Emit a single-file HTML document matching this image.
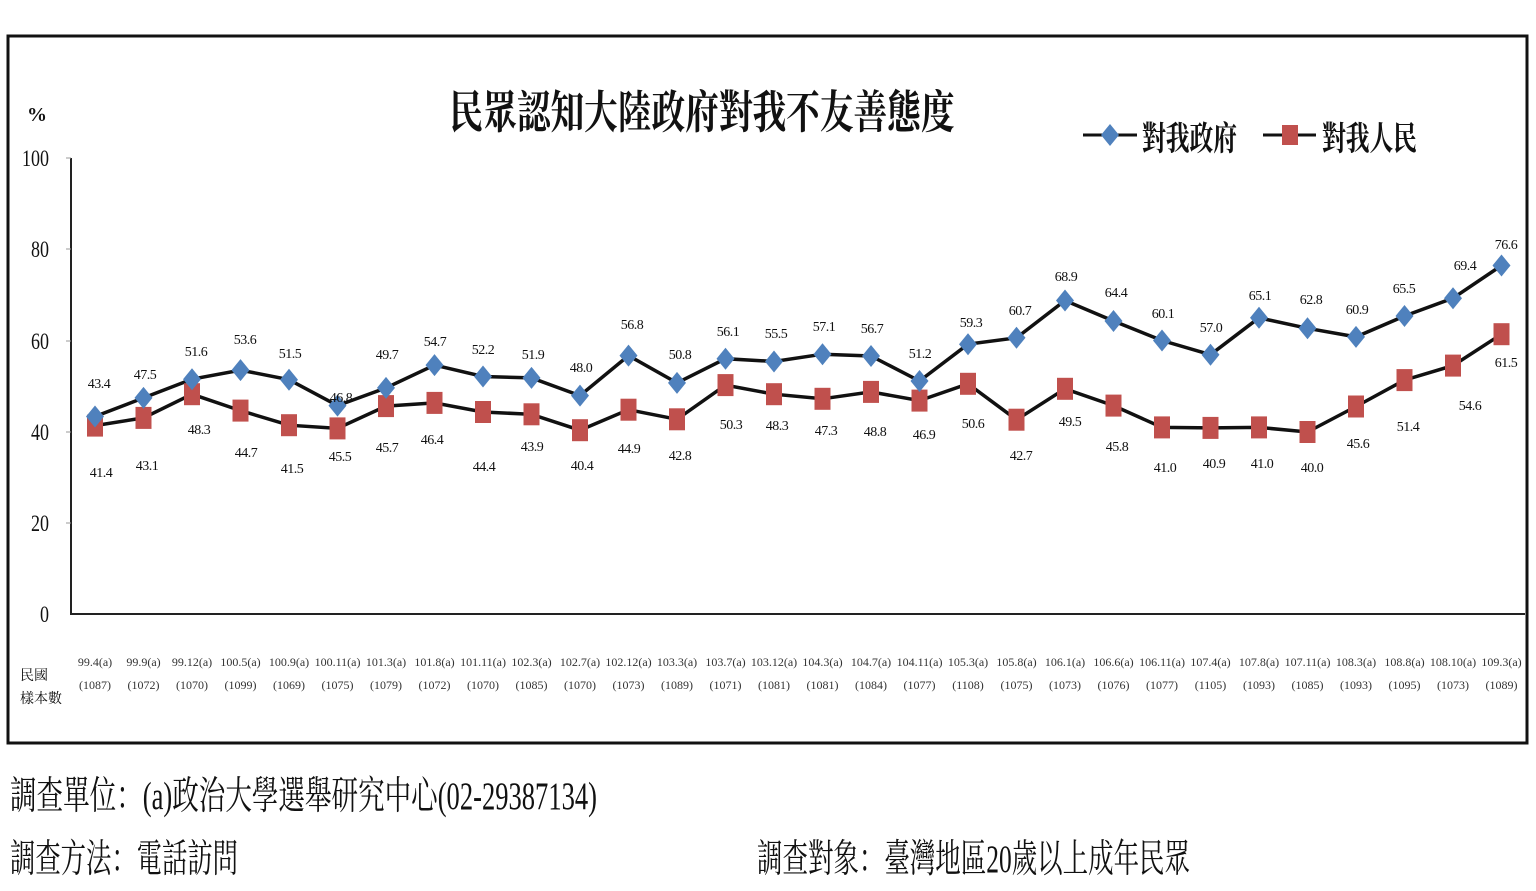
<!DOCTYPE html>
<html><head><meta charset="utf-8"><style>
html,body{margin:0;padding:0;background:#fff;width:1536px;height:891px;overflow:hidden}
svg{display:block}
text{font-family:"Liberation Serif","Noto Serif CJK SC","Noto Sans CJK TC",serif;fill:#111}
.v{font-size:14px;text-anchor:middle;letter-spacing:-0.5px}
.t{font-size:12px;text-anchor:middle;fill:#333}
.y{font-size:18px;text-anchor:end}
</style></head><body>
<svg width="1536" height="891" viewBox="0 0 1536 891" xmlns="http://www.w3.org/2000/svg">
<rect x="8" y="36" width="1519" height="707" fill="#fff" stroke="#111" stroke-width="3"/>
<text transform="translate(702,128) scale(1,1.3)" text-anchor="middle" font-size="35" font-weight="bold" textLength="505" lengthAdjust="spacingAndGlyphs">民眾認知大陸政府對我不友善態度</text>
<text x="27" y="121" font-size="20" font-weight="bold">%</text>
<line x1="1083" y1="135" x2="1137" y2="135" stroke="#111" stroke-width="3"/>
<polygon points="1110,124 1119,135 1110,146 1101,135" fill="#4f81bd"/>
<text transform="translate(1142,150) scale(1,1.35)" font-size="25" font-weight="bold" textLength="95" lengthAdjust="spacingAndGlyphs">對我政府</text>
<line x1="1263" y1="135" x2="1316" y2="135" stroke="#111" stroke-width="3"/>
<rect x="1282" y="125" width="16" height="20" fill="#c0504d"/>
<text transform="translate(1322,150) scale(1,1.35)" font-size="25" font-weight="bold" textLength="95" lengthAdjust="spacingAndGlyphs">對我人民</text>
<line x1="71" y1="158" x2="71" y2="614" stroke="#222" stroke-width="2"/>
<line x1="70" y1="614" x2="1525" y2="614" stroke="#222" stroke-width="2"/>
<g stroke="#999" stroke-width="1">
<line x1="66" y1="158" x2="71" y2="158"/><line x1="66" y1="249" x2="71" y2="249"/><line x1="66" y1="341" x2="71" y2="341"/><line x1="66" y1="432" x2="71" y2="432"/><line x1="66" y1="523" x2="71" y2="523"/>
</g>
<text transform="translate(49,166) scale(1,1.3)" class="y">100</text>
<text transform="translate(49,257) scale(1,1.3)" class="y">80</text>
<text transform="translate(49,349) scale(1,1.3)" class="y">60</text>
<text transform="translate(49,440) scale(1,1.3)" class="y">40</text>
<text transform="translate(49,531) scale(1,1.3)" class="y">20</text>
<text transform="translate(49,622) scale(1,1.3)" class="y">0</text>
<polyline fill="none" stroke="#111" stroke-width="3.5" points="95,416.5 143.5,397.9 192,379.2 240.5,370.1 289,379.7 337.5,405.6 386,387.9 434.5,365.1 483,376.5 531.5,377.9 580,395.6 628.5,355.6 677,382.9 725.5,358.7 774,361.5 822.5,354.2 871,356 919.5,381 968,344.2 1016.5,337.8 1065,300.5 1113.5,321 1162,340.5 1210.5,354.7 1259,317.8 1307.5,328.3 1356,336.9 1404.5,316 1453,298.2 1501.5,265.5"/>
<polyline fill="none" stroke="#111" stroke-width="3.5" points="95,425.6 143.5,417.9 192,394.2 240.5,410.6 289,425.2 337.5,428.4 386,406.1 434.5,402.9 483,412 531.5,414.3 580,430.2 628.5,409.7 677,419.3 725.5,385.1 774,394.2 822.5,398.8 871,391.9 919.5,400.6 968,383.8 1016.5,419.7 1065,388.8 1113.5,405.6 1162,427.4 1210.5,427.9 1259,427.4 1307.5,432 1356,406.5 1404.5,380.1 1453,365.6 1501.5,334.2"/>
<g fill="#c0504d">
<rect x="87" y="414.6" width="16" height="22"/><rect x="135.5" y="406.9" width="16" height="22"/><rect x="184" y="383.2" width="16" height="22"/><rect x="232.5" y="399.6" width="16" height="22"/><rect x="281" y="414.2" width="16" height="22"/><rect x="329.5" y="417.4" width="16" height="22"/><rect x="378" y="395.1" width="16" height="22"/><rect x="426.5" y="391.9" width="16" height="22"/><rect x="475" y="401" width="16" height="22"/><rect x="523.5" y="403.3" width="16" height="22"/><rect x="572" y="419.2" width="16" height="22"/><rect x="620.5" y="398.7" width="16" height="22"/><rect x="669" y="408.3" width="16" height="22"/><rect x="717.5" y="374.1" width="16" height="22"/><rect x="766" y="383.2" width="16" height="22"/><rect x="814.5" y="387.8" width="16" height="22"/><rect x="863" y="380.9" width="16" height="22"/><rect x="911.5" y="389.6" width="16" height="22"/><rect x="960" y="372.8" width="16" height="22"/><rect x="1008.5" y="408.7" width="16" height="22"/><rect x="1057" y="377.8" width="16" height="22"/><rect x="1105.5" y="394.6" width="16" height="22"/><rect x="1154" y="416.4" width="16" height="22"/><rect x="1202.5" y="416.9" width="16" height="22"/><rect x="1251" y="416.4" width="16" height="22"/><rect x="1299.5" y="421" width="16" height="22"/><rect x="1348" y="395.5" width="16" height="22"/><rect x="1396.5" y="369.1" width="16" height="22"/><rect x="1445" y="354.6" width="16" height="22"/><rect x="1493.5" y="323.2" width="16" height="22"/>
</g>
<g fill="#4f81bd">
<polygon points="95,405.5 104,416.5 95,427.5 86,416.5"/><polygon points="143.5,386.9 152.5,397.9 143.5,408.9 134.5,397.9"/><polygon points="192,368.2 201,379.2 192,390.2 183,379.2"/><polygon points="240.5,359.1 249.5,370.1 240.5,381.1 231.5,370.1"/><polygon points="289,368.7 298,379.7 289,390.7 280,379.7"/><polygon points="337.5,394.6 346.5,405.6 337.5,416.6 328.5,405.6"/><polygon points="386,376.9 395,387.9 386,398.9 377,387.9"/><polygon points="434.5,354.1 443.5,365.1 434.5,376.1 425.5,365.1"/><polygon points="483,365.5 492,376.5 483,387.5 474,376.5"/><polygon points="531.5,366.9 540.5,377.9 531.5,388.9 522.5,377.9"/><polygon points="580,384.6 589,395.6 580,406.6 571,395.6"/><polygon points="628.5,344.6 637.5,355.6 628.5,366.6 619.5,355.6"/><polygon points="677,371.9 686,382.9 677,393.9 668,382.9"/><polygon points="725.5,347.7 734.5,358.7 725.5,369.7 716.5,358.7"/><polygon points="774,350.5 783,361.5 774,372.5 765,361.5"/><polygon points="822.5,343.2 831.5,354.2 822.5,365.2 813.5,354.2"/><polygon points="871,345 880,356 871,367 862,356"/><polygon points="919.5,370 928.5,381 919.5,392 910.5,381"/><polygon points="968,333.2 977,344.2 968,355.2 959,344.2"/><polygon points="1016.5,326.8 1025.5,337.8 1016.5,348.8 1007.5,337.8"/><polygon points="1065,289.5 1074,300.5 1065,311.5 1056,300.5"/><polygon points="1113.5,310 1122.5,321 1113.5,332 1104.5,321"/><polygon points="1162,329.5 1171,340.5 1162,351.5 1153,340.5"/><polygon points="1210.5,343.7 1219.5,354.7 1210.5,365.7 1201.5,354.7"/><polygon points="1259,306.8 1268,317.8 1259,328.8 1250,317.8"/><polygon points="1307.5,317.3 1316.5,328.3 1307.5,339.3 1298.5,328.3"/><polygon points="1356,325.9 1365,336.9 1356,347.9 1347,336.9"/><polygon points="1404.5,305 1413.5,316 1404.5,327 1395.5,316"/><polygon points="1453,287.2 1462,298.2 1453,309.2 1444,298.2"/><polygon points="1501.5,254.5 1510.5,265.5 1501.5,276.5 1492.5,265.5"/>
</g>
<g class="v">
<text x="99" y="388" class="v">43.4</text><text x="145" y="379" class="v">47.5</text><text x="196" y="356" class="v">51.6</text><text x="245" y="344" class="v">53.6</text><text x="290" y="358" class="v">51.5</text><text x="341" y="402" class="v">46.8</text><text x="387" y="359" class="v">49.7</text><text x="435" y="346" class="v">54.7</text><text x="483" y="354" class="v">52.2</text><text x="533" y="359" class="v">51.9</text><text x="581" y="372" class="v">48.0</text><text x="632" y="329" class="v">56.8</text><text x="680" y="359" class="v">50.8</text><text x="728" y="336" class="v">56.1</text><text x="776" y="338" class="v">55.5</text><text x="824" y="331" class="v">57.1</text><text x="872" y="333" class="v">56.7</text><text x="920" y="358" class="v">51.2</text><text x="971" y="327" class="v">59.3</text><text x="1020" y="315" class="v">60.7</text><text x="1066" y="281" class="v">68.9</text><text x="1116" y="297" class="v">64.4</text><text x="1163" y="318" class="v">60.1</text><text x="1211" y="332" class="v">57.0</text><text x="1260" y="300" class="v">65.1</text><text x="1311" y="304" class="v">62.8</text><text x="1357" y="314" class="v">60.9</text><text x="1404" y="293" class="v">65.5</text><text x="1465" y="270" class="v">69.4</text><text x="1506" y="249" class="v">76.6</text>
</g>
<g class="v">
<text x="101" y="477" class="v">41.4</text><text x="147" y="470" class="v">43.1</text><text x="199" y="434" class="v">48.3</text><text x="246" y="457" class="v">44.7</text><text x="292" y="473" class="v">41.5</text><text x="340" y="461" class="v">45.5</text><text x="387" y="452" class="v">45.7</text><text x="432" y="444" class="v">46.4</text><text x="484" y="471" class="v">44.4</text><text x="532" y="451" class="v">43.9</text><text x="582" y="470" class="v">40.4</text><text x="629" y="453" class="v">44.9</text><text x="680" y="460" class="v">42.8</text><text x="731" y="429" class="v">50.3</text><text x="777" y="430" class="v">48.3</text><text x="826" y="435" class="v">47.3</text><text x="875" y="436" class="v">48.8</text><text x="924" y="439" class="v">46.9</text><text x="973" y="428" class="v">50.6</text><text x="1021" y="460" class="v">42.7</text><text x="1070" y="426" class="v">49.5</text><text x="1117" y="451" class="v">45.8</text><text x="1165" y="472" class="v">41.0</text><text x="1214" y="468" class="v">40.9</text><text x="1262" y="468" class="v">41.0</text><text x="1312" y="472" class="v">40.0</text><text x="1358" y="448" class="v">45.6</text><text x="1408" y="431" class="v">51.4</text><text x="1470" y="410" class="v">54.6</text><text x="1506" y="367" class="v">61.5</text>
</g>
<g class="t">
<text x="95" y="666" class="t">99.4(a)</text><text x="143.5" y="666" class="t">99.9(a)</text><text x="192" y="666" class="t">99.12(a)</text><text x="240.5" y="666" class="t">100.5(a)</text><text x="289" y="666" class="t">100.9(a)</text><text x="337.5" y="666" class="t">100.11(a)</text><text x="386" y="666" class="t">101.3(a)</text><text x="434.5" y="666" class="t">101.8(a)</text><text x="483" y="666" class="t">101.11(a)</text><text x="531.5" y="666" class="t">102.3(a)</text><text x="580" y="666" class="t">102.7(a)</text><text x="628.5" y="666" class="t">102.12(a)</text><text x="677" y="666" class="t">103.3(a)</text><text x="725.5" y="666" class="t">103.7(a)</text><text x="774" y="666" class="t">103.12(a)</text><text x="822.5" y="666" class="t">104.3(a)</text><text x="871" y="666" class="t">104.7(a)</text><text x="919.5" y="666" class="t">104.11(a)</text><text x="968" y="666" class="t">105.3(a)</text><text x="1016.5" y="666" class="t">105.8(a)</text><text x="1065" y="666" class="t">106.1(a)</text><text x="1113.5" y="666" class="t">106.6(a)</text><text x="1162" y="666" class="t">106.11(a)</text><text x="1210.5" y="666" class="t">107.4(a)</text><text x="1259" y="666" class="t">107.8(a)</text><text x="1307.5" y="666" class="t">107.11(a)</text><text x="1356" y="666" class="t">108.3(a)</text><text x="1404.5" y="666" class="t">108.8(a)</text><text x="1453" y="666" class="t">108.10(a)</text><text x="1501.5" y="666" class="t">109.3(a)</text>
<text x="95" y="689" class="t">(1087)</text><text x="143.5" y="689" class="t">(1072)</text><text x="192" y="689" class="t">(1070)</text><text x="240.5" y="689" class="t">(1099)</text><text x="289" y="689" class="t">(1069)</text><text x="337.5" y="689" class="t">(1075)</text><text x="386" y="689" class="t">(1079)</text><text x="434.5" y="689" class="t">(1072)</text><text x="483" y="689" class="t">(1070)</text><text x="531.5" y="689" class="t">(1085)</text><text x="580" y="689" class="t">(1070)</text><text x="628.5" y="689" class="t">(1073)</text><text x="677" y="689" class="t">(1089)</text><text x="725.5" y="689" class="t">(1071)</text><text x="774" y="689" class="t">(1081)</text><text x="822.5" y="689" class="t">(1081)</text><text x="871" y="689" class="t">(1084)</text><text x="919.5" y="689" class="t">(1077)</text><text x="968" y="689" class="t">(1108)</text><text x="1016.5" y="689" class="t">(1075)</text><text x="1065" y="689" class="t">(1073)</text><text x="1113.5" y="689" class="t">(1076)</text><text x="1162" y="689" class="t">(1077)</text><text x="1210.5" y="689" class="t">(1105)</text><text x="1259" y="689" class="t">(1093)</text><text x="1307.5" y="689" class="t">(1085)</text><text x="1356" y="689" class="t">(1093)</text><text x="1404.5" y="689" class="t">(1095)</text><text x="1453" y="689" class="t">(1073)</text><text x="1501.5" y="689" class="t">(1089)</text>
</g>
<text x="20" y="680" font-size="14" fill="#444">民國</text>
<text x="20" y="703" font-size="14" fill="#444">樣本數</text>
<text transform="translate(10,809) scale(1,1.3)" font-size="30" textLength="587" lengthAdjust="spacingAndGlyphs">調查單位：(a)政治大學選舉研究中心(02-29387134)</text>
<text transform="translate(10,872) scale(1,1.3)" font-size="30" textLength="228" lengthAdjust="spacingAndGlyphs">調查方法：電話訪問</text>
<text transform="translate(757,872) scale(1,1.3)" font-size="30" textLength="433" lengthAdjust="spacingAndGlyphs">調查對象：臺灣地區20歲以上成年民眾</text>
</svg>
</body></html>
